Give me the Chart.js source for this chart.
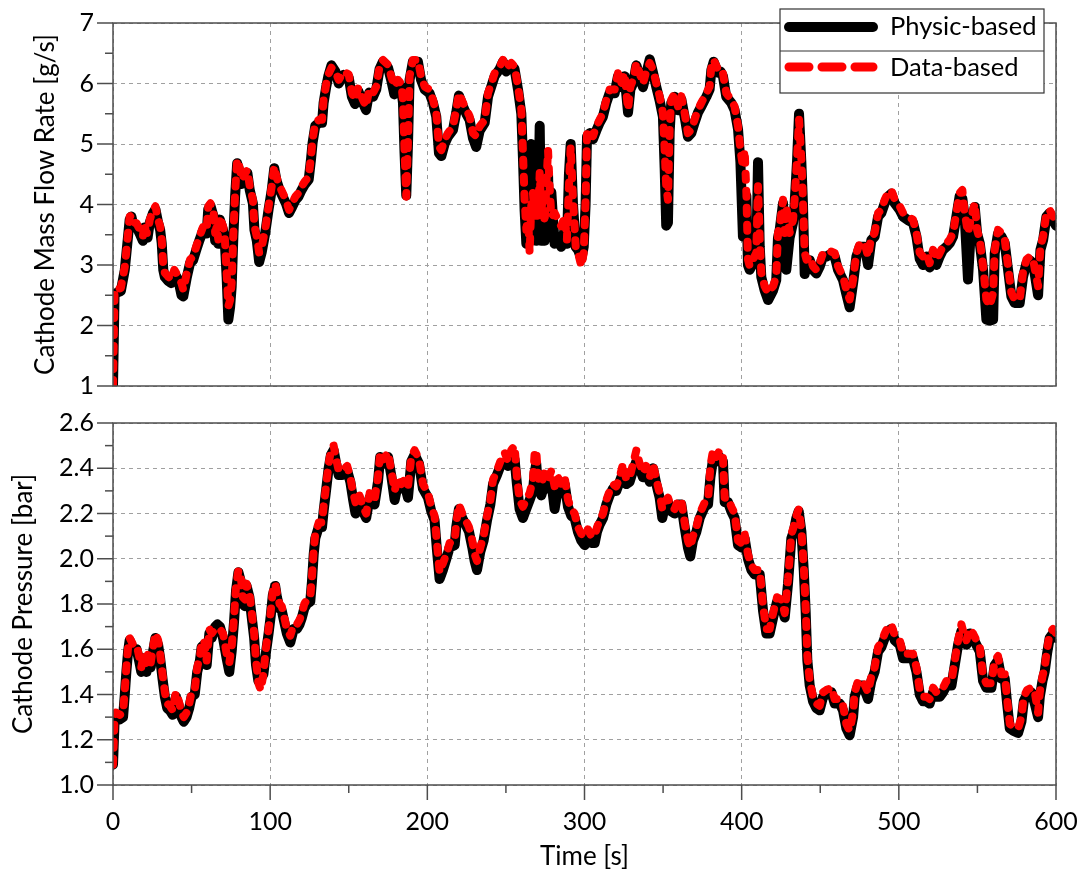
<!DOCTYPE html>
<html>
<head>
<meta charset="utf-8">
<script src="https://cdn.jsdelivr.net/npm/chart.js@4.4.0/dist/chart.umd.min.js"></script>
<style>
  html, body { margin: 0; padding: 0; background: #fff; }
  #wrap { position: relative; width: 1083px; height: 872px; }
  #flowChart { position: absolute; left: 0; top: 0; }
  #pressureChart { position: absolute; left: 0; top: 400px; }
</style>
</head>
<body>
<div id="wrap">
  <canvas id="flowChart" width="1083" height="400"></canvas>
  <canvas id="pressureChart" width="1083" height="472"></canvas>
</div>
<script>
// 上图：阴极质量流量 (time [s])
const flowTime = [
  0, 1, 3, 5, 7.5, 9.6, 10.6, 11.7, 13, 15,
  17, 19, 20, 21, 22, 23.4, 25.5, 27, 28.7, 30,
  31, 32, 33, 35, 37, 39, 41.5, 43.6, 44.7, 47,
  49, 51, 53, 55, 57.4, 59.6, 60.6, 62, 64, 65,
  66, 67, 68, 70, 71, 72.3, 73.4, 74.5, 75.5, 76.6,
  77.7, 79, 80.4, 82, 84, 85.5, 87, 89, 90, 91.5,
  93, 94.7, 96.8, 99, 101, 102.6, 104, 106, 108, 110,
  112, 114, 116, 118, 120, 122, 124.5, 126, 127, 128.7,
  131, 133, 134, 135.7, 137, 139, 141.5, 143.6, 146.8, 150,
  152, 154, 156, 159, 161, 163, 165.4, 167.5, 169.6, 171.7,
  175, 177, 179, 181.3, 183.4, 184.5, 185.5, 186.6, 187.7, 188.7,
  190.8, 194, 196, 198.3, 201.4, 203.6, 205.7, 207.4, 208.9, 211,
  213.1, 216.3, 218.4, 220.1, 222.7, 224.8, 226.9, 229, 231.1, 233.3,
  236.5, 238.6, 240.7, 242.8, 246, 248.1, 250.2, 253.4, 255.5, 257.7,
  259.8, 260.8, 261.9, 263, 264, 265.1, 266.1, 267.2, 268.3, 269.3,
  270.4, 271.5, 272.5, 273.6, 274.6, 276.8, 277.8, 278.9, 281, 283.1,
  285.2, 287.4, 288.8, 290.1, 291.2, 292.7, 294.4, 295.9, 298, 299.5,
  300.7, 301.6, 303.3, 305.4, 307.5, 309.6, 311.7, 313.9, 316, 319.2,
  321.3, 323.4, 325.5, 327.7, 329.2, 330.9, 333, 335.1, 337.2, 339.3,
  341.5, 343.6, 345.7, 347.8, 349.9, 351, 352, 353.1, 354.2, 355.2,
  357.4, 359.5, 361.6, 363.7, 365.8, 368, 370, 372.2, 374.3, 377.5,
  379.6, 380.7, 382.2, 384.9, 386.5, 388.1, 390.2, 393.4, 395.5, 397.7,
  399.2, 400.8, 401.9, 403, 404, 405.1, 407.2, 409.3, 410.4, 411.5,
  412.5, 414.6, 416.8, 420, 422, 423.1, 424.2, 426.3, 427.4, 428.4,
  430.5, 432.7, 433.7, 435.2, 436.5, 438, 439, 440.1, 441.2, 443.3,
  445.4, 447.5, 449.6, 451.8, 453.9, 456, 459.2, 461.3, 464.5, 466.6,
  468.7, 470.9, 473, 475.1, 478.3, 480.4, 482.5, 484.6, 486.8, 488.9,
  491, 493.1, 495.2, 497.4, 500.6, 502.7, 505.9, 509, 511.2, 513.3,
  515.4, 517.5, 519.6, 521.8, 523.9, 526, 528.1, 530.3, 532.4, 534.5,
  536.6, 538.7, 540.4, 541.9, 544, 546.2, 548.3, 549.8, 551.5, 553.6,
  555.7, 557.8, 560, 561, 563.1, 565.3, 567.4, 569.5, 571.6, 573.7,
  576.9, 579, 581.2, 583.3, 585.4, 588.6, 590.1, 591.8, 593.9, 596,
  598.1, 600
];
const flowPhysic = [
  1.0, 2.52, 2.55, 2.57, 2.92, 3.48, 3.75, 3.8, 3.65, 3.63,
  3.52, 3.4, 3.62, 3.46, 3.45, 3.7, 3.86, 3.92, 3.7, 3.58,
  3.36, 2.92, 2.8, 2.74, 2.7, 2.86, 2.76, 2.5, 2.48, 2.8,
  3.03, 3.08, 3.25, 3.41, 3.58, 3.52, 3.92, 3.98, 3.8, 3.4,
  3.58, 3.35, 3.75, 3.58, 3.45, 2.8, 2.1, 2.3, 2.64, 3.48,
  4.14, 4.68, 4.56, 4.34, 4.46, 4.52, 4.24, 4.02, 3.58, 3.4,
  3.05, 3.22, 3.52, 3.92, 4.24, 4.6, 4.4, 4.24, 4.13, 4.02,
  3.86, 3.96, 4.07, 4.13, 4.24, 4.33, 4.41, 4.75, 5.02, 5.3,
  5.35, 5.35, 5.68, 5.95, 6.12, 6.3, 6.2, 6.0, 6.14, 6.1,
  5.78, 5.66, 5.88, 5.68, 5.56, 5.85, 5.78, 5.9, 6.24, 6.36,
  6.26, 6.06, 5.82, 6.0, 5.94, 5.68, 4.85, 4.15, 5.0, 6.06,
  6.36, 6.36, 6.06, 5.9, 5.84, 5.68, 5.45, 4.85, 4.8, 5.0,
  5.12, 5.23, 5.52, 5.8, 5.62, 5.5, 5.4, 5.1, 4.95, 5.22,
  5.35, 5.78, 5.95, 6.12, 6.24, 6.36, 6.2, 6.3, 6.24, 5.9,
  5.5, 4.8, 3.9, 3.35, 4.3, 3.6, 5.0, 3.5, 4.1, 3.4,
  3.6, 5.3, 3.4, 3.9, 3.4, 4.5, 3.5, 4.2, 3.35, 3.45,
  3.3, 3.6, 3.35, 4.5, 5.0, 4.0, 3.3, 3.25, 3.1, 3.3,
  4.0, 5.12, 5.18, 5.08, 5.22, 5.35, 5.45, 5.68, 5.84, 5.84,
  6.12, 5.94, 6.12, 5.52, 5.9, 6.0, 6.3, 6.12, 5.94, 6.16,
  6.4, 6.18, 5.94, 5.72, 5.45, 4.6, 3.65, 3.7, 5.2, 5.68,
  5.78, 5.56, 5.74, 5.45, 5.12, 5.18, 5.35, 5.52, 5.62, 5.78,
  5.9, 6.22, 6.36, 6.18, 6.2, 6.12, 5.78, 5.68, 5.56, 5.24,
  4.7, 3.47, 4.2, 4.14, 3.0, 2.92, 3.03, 3.14, 4.7, 3.3,
  2.8, 2.58, 2.42, 2.58, 2.75, 3.45, 3.58, 4.02, 3.47, 2.92,
  3.45, 3.7, 4.02, 4.7, 5.5, 4.68, 4.02, 2.85, 3.0, 3.08,
  2.92, 2.86, 2.97, 3.14, 3.14, 3.17, 3.14, 2.92, 2.75, 2.52,
  2.3, 2.7, 3.14, 3.3, 3.3, 3.0, 3.41, 3.47, 3.8, 3.86,
  4.02, 4.13, 4.18, 4.02, 3.91, 3.8, 3.74, 3.7, 3.47, 3.1,
  3.0, 3.14, 2.96, 3.19, 3.0, 3.14, 3.25, 3.3, 3.36, 3.47,
  3.8, 4.14, 4.1, 3.8, 2.76, 3.74, 3.96, 3.52, 3.36, 2.92,
  2.1, 2.08, 2.1, 3.19, 3.52, 3.47, 3.36, 2.92, 2.48, 2.37,
  2.37, 2.8, 3.03, 3.08, 3.03, 2.5, 3.25, 3.41, 3.8, 3.86,
  3.74, 3.65
];
const flowData = [
  1.0, 2.6, 2.6, 2.62, 2.97, 3.53, 3.8, 3.82, 3.7, 3.69,
  3.58, 3.47, 3.69, 3.53, 3.53, 3.75, 3.91, 3.97, 3.75, 3.64,
  3.42, 2.98, 2.87, 2.81, 2.76, 2.92, 2.81, 2.7, 2.59, 2.87,
  3.09, 3.14, 3.31, 3.47, 3.64, 3.58, 3.97, 4.02, 3.86, 3.53,
  3.64, 3.42, 3.8, 3.64, 3.53, 2.87, 2.32, 2.42, 2.7, 3.53,
  4.19, 4.74, 4.63, 4.41, 4.52, 4.57, 4.3, 4.08, 3.64, 3.47,
  3.2, 3.31, 3.58, 3.97, 4.3, 4.63, 4.46, 4.3, 4.19, 4.08,
  3.91, 4.02, 4.13, 4.19, 4.3, 4.38, 4.46, 4.8, 5.07, 5.35,
  5.4, 5.4, 5.73, 6.0, 6.15, 6.26, 6.2, 6.06, 6.2, 6.15,
  5.84, 5.73, 5.93, 5.73, 5.62, 5.9, 5.84, 5.95, 6.28, 6.39,
  6.31, 6.12, 5.95, 6.06, 6.0, 5.73, 4.9, 4.13, 5.07, 6.12,
  6.39, 6.39, 6.12, 5.95, 5.9, 5.73, 5.51, 4.96, 4.9, 5.07,
  5.18, 5.29, 5.57, 5.84, 5.68, 5.57, 5.46, 5.18, 5.13, 5.29,
  5.4, 5.84, 6.0, 6.17, 6.28, 6.39, 6.26, 6.34, 6.28, 5.95,
  5.57, 4.9, 4.08, 3.58, 3.86, 3.2, 3.97, 4.19, 3.8, 4.08,
  3.75, 4.52, 3.86, 4.19, 3.69, 4.9, 4.3, 3.8, 3.86, 3.75,
  3.64, 3.8, 3.42, 4.3, 4.96, 4.08, 3.31, 3.2, 2.98, 3.2,
  4.08, 5.18, 5.24, 5.13, 5.29, 5.4, 5.51, 5.73, 5.9, 5.9,
  6.17, 6.0, 6.17, 5.57, 5.95, 6.06, 6.34, 6.17, 6.0, 6.2,
  6.34, 6.23, 6.0, 5.79, 5.51, 4.9, 4.3, 4.08, 5.29, 5.73,
  5.84, 5.62, 5.79, 5.51, 5.18, 5.24, 5.4, 5.57, 5.68, 5.84,
  5.95, 6.28, 6.39, 6.23, 6.25, 6.17, 5.84, 5.73, 5.62, 5.29,
  4.9, 4.63, 4.9, 4.19, 3.09, 2.98, 3.09, 3.2, 4.3, 3.42,
  2.87, 2.65, 2.54, 2.65, 2.81, 3.53, 3.64, 4.08, 3.53, 3.97,
  3.53, 3.75, 4.08, 4.74, 5.4, 4.74, 4.08, 3.2, 3.09, 3.14,
  2.98, 2.92, 3.03, 3.2, 3.2, 3.23, 3.2, 2.98, 2.81, 2.59,
  2.43, 2.76, 3.2, 3.36, 3.36, 3.14, 3.47, 3.53, 3.86, 3.91,
  4.08, 4.19, 4.24, 4.08, 3.97, 3.86, 3.8, 3.75, 3.53, 3.2,
  3.14, 3.2, 3.03, 3.25, 3.09, 3.2, 3.31, 3.36, 3.42, 3.53,
  3.86, 4.19, 4.24, 3.86, 3.53, 3.8, 4.02, 3.58, 3.42, 2.98,
  2.43, 2.32, 2.54, 3.25, 3.58, 3.53, 3.42, 2.98, 2.54, 2.43,
  2.43, 2.87, 3.09, 3.14, 3.09, 2.65, 3.31, 3.47, 3.86, 3.91,
  3.8, 3.75
];

// 下图：阴极压力
const pressureTime = [
  0, 1, 2, 4.3, 6.4, 7.4, 8.5, 9.6, 10.6, 12.8,
  15, 16.6, 18, 19.6, 21.3, 22.3, 24, 25.5, 27, 28.7,
  30, 31.5, 33, 34.5, 36.2, 38, 40, 41.5, 43.6, 45,
  46.8, 48.5, 50, 52, 53.6, 55.3, 56.4, 58, 59.6, 61.3,
  62.8, 65, 66.4, 68, 70, 72.3, 74, 75.5, 77, 78.3,
  79.8, 81.3, 82.6, 84, 85, 86.8, 88.3, 89.8, 91, 92.5,
  94, 95.7, 97.4, 99, 100.4, 101.7, 103.2, 104.3, 106, 107.4,
  109, 110.6, 112.8, 115, 117, 118.7, 120.2, 121.7, 123.4, 125.5,
  126.6, 127.7, 128.7, 130.9, 133, 134, 135.7, 137.2, 138.7, 140.4,
  142, 143.6, 145.7, 149, 151, 152.8, 154.3, 156.4, 159, 161.1,
  163.3, 166.4, 168.6, 170, 172.2, 175, 177, 179.2, 181.3, 183.4,
  185.5, 187.7, 189.8, 191.9, 194.7, 197.2, 200.4, 202.5, 204.6, 206.1,
  207.8, 209.9, 212.1, 214.2, 217.4, 218.4, 220.1, 222.2, 224.4, 226.5,
  228.6, 230.1, 231.6, 233.7, 235.8, 238, 240.1, 241.8, 244.3, 247,
  249.2, 251.3, 253.4, 255.5, 257, 258.7, 260.8, 262.9, 265.1, 267.2,
  268.3, 269.3, 270.4, 272.5, 274.6, 276.8, 278.9, 281, 283.1, 285.2,
  287.4, 289.5, 291.6, 293.7, 295.8, 298, 300.1, 302.2, 304.3, 306.5,
  308, 309.6, 311.8, 313.9, 316, 318.1, 320.2, 322.4, 324.5, 326.6,
  328.7, 330.9, 333, 335.1, 337.2, 339.3, 341.5, 343.6, 345.7, 347.8,
  349.5, 351, 353.1, 355.2, 357.4, 359.5, 361.6, 363.7, 365.8, 367.3,
  369, 371.2, 373.3, 376.5, 378.6, 380.1, 381.8, 383.9, 386, 388.1,
  389.2, 391.3, 393.4, 395.5, 397.7, 399.8, 401.9, 404, 406.2, 408.3,
  411.5, 413.6, 415.7, 417.8, 420, 422.5, 425.2, 427.4, 429.5, 431.6,
  433.1, 434.8, 436.3, 438, 439.5, 440.7, 441.8, 443.3, 445.4, 447.5,
  449.6, 451.8, 453.9, 457.1, 459.2, 462.4, 464.5, 466.6, 468.7, 470.9,
  471.9, 474, 477.2, 480.4, 482.5, 484.6, 486.8, 488.9, 491, 493.1,
  495.2, 497.4, 500.6, 502.7, 505.9, 509, 511.2, 513.3, 515.4, 517.5,
  519.6, 521.8, 523.9, 526, 528.1, 530.3, 533.5, 535.6, 537.7, 539.8,
  541.3, 543, 545.1, 547.2, 549.3, 551.5, 553.6, 555.7, 558.9, 561,
  563.1, 565.3, 567.4, 568.9, 570.6, 572.7, 575.9, 578, 579.5, 581.6,
  584.3, 586.5, 588.6, 589.7, 591.4, 592.8, 594.3, 596, 598.1, 600
];
const pressurePhysic = [
  1.09, 1.28, 1.30, 1.29, 1.30, 1.39, 1.50, 1.59, 1.64, 1.60,
  1.60, 1.55, 1.50, 1.56, 1.50, 1.56, 1.52, 1.59, 1.65, 1.62,
  1.56, 1.47, 1.39, 1.34, 1.33, 1.31, 1.39, 1.36, 1.30, 1.28,
  1.30, 1.34, 1.39, 1.40, 1.50, 1.55, 1.61, 1.62, 1.53, 1.67,
  1.65, 1.70, 1.71, 1.70, 1.65, 1.56, 1.50, 1.59, 1.72, 1.86,
  1.94, 1.90, 1.80, 1.79, 1.88, 1.83, 1.74, 1.65, 1.53, 1.46,
  1.47, 1.49, 1.59, 1.67, 1.75, 1.84, 1.88, 1.83, 1.78, 1.77,
  1.72, 1.67, 1.63, 1.69, 1.69, 1.71, 1.74, 1.78, 1.80, 1.81,
  1.90, 2.02, 2.09, 2.14, 2.14, 2.21, 2.31, 2.40, 2.46, 2.48,
  2.42, 2.37, 2.37, 2.39, 2.34, 2.26, 2.20, 2.27, 2.21, 2.18,
  2.27, 2.24, 2.34, 2.45, 2.42, 2.45, 2.37, 2.26, 2.33, 2.31,
  2.33, 2.27, 2.43, 2.46, 2.42, 2.31, 2.27, 2.21, 2.17, 2.04,
  1.91, 1.95, 2.00, 2.05, 2.06, 2.14, 2.22, 2.18, 2.15, 2.12,
  2.05, 1.99, 1.95, 2.03, 2.08, 2.17, 2.24, 2.33, 2.37, 2.42,
  2.42, 2.41, 2.42, 2.44, 2.33, 2.22, 2.18, 2.22, 2.26, 2.30,
  2.38, 2.42, 2.32, 2.28, 2.33, 2.31, 2.34, 2.22, 2.31, 2.29,
  2.33, 2.23, 2.19, 2.18, 2.12, 2.08, 2.06, 2.10, 2.07, 2.07,
  2.12, 2.15, 2.18, 2.24, 2.28, 2.31, 2.30, 2.34, 2.38, 2.33,
  2.34, 2.39, 2.43, 2.40, 2.36, 2.39, 2.34, 2.40, 2.33, 2.27,
  2.18, 2.23, 2.25, 2.21, 2.20, 2.24, 2.24, 2.14, 2.05, 2.01,
  2.08, 2.12, 2.18, 2.23, 2.24, 2.36, 2.44, 2.43, 2.45, 2.43,
  2.25, 2.25, 2.21, 2.18, 2.06, 2.05, 2.09, 2.00, 1.95, 1.93,
  1.93, 1.77, 1.67, 1.67, 1.74, 1.81, 1.80, 1.74, 1.89, 2.09,
  2.12, 2.18, 2.21, 2.12, 1.95, 1.77, 1.55, 1.44, 1.37, 1.34,
  1.33, 1.39, 1.40, 1.41, 1.36, 1.36, 1.33, 1.25, 1.22, 1.30,
  1.39, 1.44, 1.44, 1.38, 1.46, 1.50, 1.59, 1.61, 1.65, 1.68,
  1.69, 1.64, 1.62, 1.56, 1.56, 1.56, 1.50, 1.40, 1.37, 1.37,
  1.36, 1.41, 1.39, 1.39, 1.41, 1.44, 1.44, 1.53, 1.62, 1.68,
  1.65, 1.62, 1.67, 1.65, 1.62, 1.59, 1.46, 1.43, 1.43, 1.53,
  1.55, 1.47, 1.47, 1.36, 1.25, 1.24, 1.23, 1.28, 1.37, 1.40,
  1.41, 1.36, 1.30, 1.39, 1.46, 1.50, 1.58, 1.65, 1.67, 1.65
];
const pressureData = [
  1.09, 1.30, 1.32, 1.31, 1.32, 1.41, 1.52, 1.61, 1.65, 1.62,
  1.62, 1.57, 1.52, 1.58, 1.52, 1.58, 1.54, 1.61, 1.67, 1.64,
  1.58, 1.49, 1.41, 1.36, 1.35, 1.33, 1.41, 1.38, 1.32, 1.30,
  1.32, 1.36, 1.41, 1.42, 1.52, 1.57, 1.63, 1.64, 1.55, 1.69,
  1.67, 1.69, 1.69, 1.69, 1.67, 1.58, 1.54, 1.61, 1.74, 1.88,
  1.95, 1.92, 1.83, 1.82, 1.89, 1.85, 1.76, 1.67, 1.55, 1.45,
  1.42, 1.49, 1.61, 1.69, 1.77, 1.86, 1.89, 1.85, 1.80, 1.79,
  1.74, 1.69, 1.66, 1.71, 1.71, 1.73, 1.76, 1.80, 1.82, 1.83,
  1.92, 2.04, 2.11, 2.16, 2.16, 2.23, 2.33, 2.42, 2.48, 2.50,
  2.44, 2.39, 2.39, 2.41, 2.36, 2.29, 2.25, 2.29, 2.23, 2.20,
  2.29, 2.26, 2.36, 2.47, 2.44, 2.47, 2.39, 2.30, 2.36, 2.33,
  2.35, 2.32, 2.45, 2.48, 2.44, 2.33, 2.29, 2.23, 2.19, 2.07,
  1.94, 1.98, 2.02, 2.07, 2.08, 2.16, 2.24, 2.20, 2.17, 2.14,
  2.08, 2.02, 1.99, 2.05, 2.10, 2.19, 2.26, 2.35, 2.39, 2.44,
  2.47, 2.43, 2.48, 2.50, 2.36, 2.26, 2.23, 2.26, 2.29, 2.35,
  2.47, 2.48, 2.36, 2.33, 2.38, 2.35, 2.39, 2.32, 2.36, 2.33,
  2.36, 2.26, 2.22, 2.20, 2.14, 2.11, 2.10, 2.13, 2.10, 2.10,
  2.14, 2.17, 2.20, 2.26, 2.30, 2.33, 2.32, 2.36, 2.42, 2.35,
  2.36, 2.42, 2.48, 2.42, 2.38, 2.41, 2.36, 2.42, 2.35, 2.29,
  2.22, 2.25, 2.27, 2.23, 2.22, 2.26, 2.26, 2.16, 2.08, 2.05,
  2.10, 2.14, 2.20, 2.25, 2.26, 2.41, 2.48, 2.45, 2.48, 2.45,
  2.27, 2.27, 2.23, 2.20, 2.08, 2.07, 2.11, 2.02, 1.97, 1.95,
  1.95, 1.79, 1.69, 1.69, 1.76, 1.83, 1.82, 1.76, 1.91, 2.11,
  2.14, 2.19, 2.22, 2.13, 1.97, 1.79, 1.57, 1.46, 1.39, 1.36,
  1.35, 1.41, 1.42, 1.43, 1.38, 1.38, 1.35, 1.27, 1.24, 1.32,
  1.41, 1.46, 1.46, 1.41, 1.48, 1.52, 1.61, 1.63, 1.67, 1.70,
  1.71, 1.66, 1.64, 1.58, 1.58, 1.58, 1.52, 1.42, 1.39, 1.39,
  1.38, 1.43, 1.41, 1.41, 1.43, 1.46, 1.46, 1.55, 1.64, 1.71,
  1.67, 1.64, 1.69, 1.67, 1.64, 1.61, 1.48, 1.45, 1.45, 1.55,
  1.57, 1.49, 1.49, 1.38, 1.27, 1.26, 1.25, 1.30, 1.39, 1.42,
  1.43, 1.41, 1.32, 1.41, 1.48, 1.52, 1.60, 1.67, 1.69, 1.67
];

const seriesLabels = ['Physic-based', 'Data-based'];
const FONT = 'Lato, "Open Sans", sans-serif';

function toPoints(time, values) {
    return time.map((t, i) => ({ x: t, y: values[i] }));
}

function makeDatasets(time, physic, data) {
    return [{
        label: seriesLabels[0],
        data: toPoints(time, physic),
        borderColor: '#000000',
        borderWidth: 10,
        borderCapStyle: 'round',
        borderJoinStyle: 'round',
        pointRadius: 0,
        tension: 0,
        order: 2
    }, {
        label: seriesLabels[1],
        data: toPoints(time, data),
        borderColor: '#ff0000',
        borderWidth: 8,
        borderDash: [6, 11],
        borderCapStyle: 'round',
        borderJoinStyle: 'round',
        pointRadius: 0,
        tension: 0,
        order: 1
    }];
}

// 坐标框 + 主/次刻度
const frameTicks = {
    id: 'frameTicks',
    afterDraw(chart, args, opts) {
        const ctx = chart.ctx;
        const a = chart.chartArea;
        ctx.save();
        ctx.strokeStyle = '#4d4d4d';
        ctx.lineWidth = 1.5;
        ctx.strokeRect(a.left, a.top, a.right - a.left, a.bottom - a.top);
        const ys = chart.scales.y;
        for (let k = 0; k <= opts.yCount; k++) {
            const py = ys.getPixelForValue(ys.min + k * opts.yMinor);
            const len = (k % opts.yEvery === 0) ? 16 : 8;
            ctx.beginPath();
            ctx.moveTo(a.left - len, py);
            ctx.lineTo(a.left, py);
            ctx.stroke();
        }
        if (opts.xTicks) {
            const xs = chart.scales.x;
            for (let k = 0; k <= 12; k++) {
                const px = xs.getPixelForValue(k * 50);
                const len = (k % 2 === 0) ? 15 : 8;
                ctx.beginPath();
                ctx.moveTo(px, a.bottom);
                ctx.lineTo(px, a.bottom + len);
                ctx.stroke();
            }
        }
        ctx.restore();
    }
};

// 图例框
const boxLegend = {
    id: 'boxLegend',
    afterDraw(chart, args, opts) {
        if (!opts.show) return;
        const ctx = chart.ctx;
        const ds = chart.data.datasets;
        const x0 = 780, y0 = 9, x1 = 1044, y1 = 93, ymid = 51;
        ctx.save();
        ctx.fillStyle = '#ffffff';
        ctx.fillRect(x0, y0, x1 - x0, y1 - y0);
        ctx.strokeStyle = '#333333';
        ctx.lineWidth = 1.2;
        ctx.strokeRect(x0, y0, x1 - x0, y1 - y0);
        ctx.beginPath();
        ctx.moveTo(x0, ymid);
        ctx.lineTo(x1, ymid);
        ctx.stroke();

        ctx.lineCap = 'round';
        ctx.strokeStyle = ds[0].borderColor;
        ctx.lineWidth = 10;
        ctx.beginPath();
        ctx.moveTo(789, 27);
        ctx.lineTo(873, 27);
        ctx.stroke();

        ctx.strokeStyle = ds[1].borderColor;
        ctx.lineWidth = 9;
        ctx.setLineDash([20, 13]);
        ctx.beginPath();
        ctx.moveTo(789, 67);
        ctx.lineTo(873, 67);
        ctx.stroke();
        ctx.setLineDash([]);

        ctx.fillStyle = '#000000';
        ctx.font = '25.5px ' + FONT;
        ctx.textBaseline = 'middle';
        ctx.fillText(ds[0].label, 890, 27);
        ctx.fillText(ds[1].label, 890, 68);
        ctx.restore();
    }
};

function yAxis(min, max, step, title, titlePad, fmt) {
    return {
        type: 'linear',
        min: min,
        max: max,
        afterFit: s => {
            s.width = 113;
            s.paddingTop = 0;
            s.paddingBottom = 0;
        },
        ticks: {
            stepSize: step,
            padding: 19,
            color: '#000',
            font: { family: FONT, size: 25 },
            callback: fmt
        },
        grid: { color: '#a0a0a0', lineWidth: 1, drawTicks: false },
        border: { display: false, dash: [4, 4] },
        title: {
            display: true,
            text: title,
            color: '#000',
            font: { family: FONT, size: 26 },
            padding: { top: titlePad, bottom: 0 }
        }
    };
}

function xAxis(showLabels) {
    const ax = {
        type: 'linear',
        min: 0,
        max: 600,
        ticks: {
            stepSize: 100,
            display: showLabels,
            padding: 22,
            color: '#000',
            maxRotation: 0,
            font: { family: FONT, size: 25 }
        },
        grid: { color: '#a0a0a0', lineWidth: 1, drawTicks: false },
        border: { display: false, dash: [4, 4] },
        afterFit: s => {
            s.height = showLabels ? 87 : 0;
            s.paddingLeft = 0;
            s.paddingRight = 0;
        }
    };
    if (showLabels) {
        ax.title = {
            display: true,
            text: 'Time [s]',
            color: '#000',
            font: { family: FONT, size: 26 },
            padding: { top: 0, bottom: 0 }
        };
    }
    return ax;
}

new Chart(document.getElementById('flowChart'), {
    type: 'line',
    data: { datasets: makeDatasets(flowTime, flowPhysic, flowData) },
    options: {
        responsive: false,
        animation: false,
        layout: { padding: { left: 0, right: 27, top: 23, bottom: 14 } },
        plugins: {
            legend: { display: false },
            tooltip: { enabled: false },
            frameTicks: { yCount: 12, yMinor: 0.5, yEvery: 2, xTicks: false },
            boxLegend: { show: true }
        },
        scales: {
            x: xAxis(false),
            y: yAxis(1, 7, 1, 'Cathode Mass Flow Rate [g/s]', 30, v => v.toFixed(0))
        }
    },
    plugins: [frameTicks, boxLegend]
});

new Chart(document.getElementById('pressureChart'), {
    type: 'line',
    data: { datasets: makeDatasets(pressureTime, pressurePhysic, pressureData) },
    options: {
        responsive: false,
        animation: false,
        layout: { padding: { left: 0, right: 27, top: 23, bottom: 0 } },
        plugins: {
            legend: { display: false },
            tooltip: { enabled: false },
            frameTicks: { yCount: 16, yMinor: 0.1, yEvery: 2, xTicks: true },
            boxLegend: { show: false }
        },
        scales: {
            x: xAxis(true),
            y: yAxis(1.0, 2.6, 0.2, 'Cathode Pressure [bar]', 8, v => v.toFixed(1))
        }
    },
    plugins: [frameTicks, boxLegend]
});
</script>
</body>
</html>
